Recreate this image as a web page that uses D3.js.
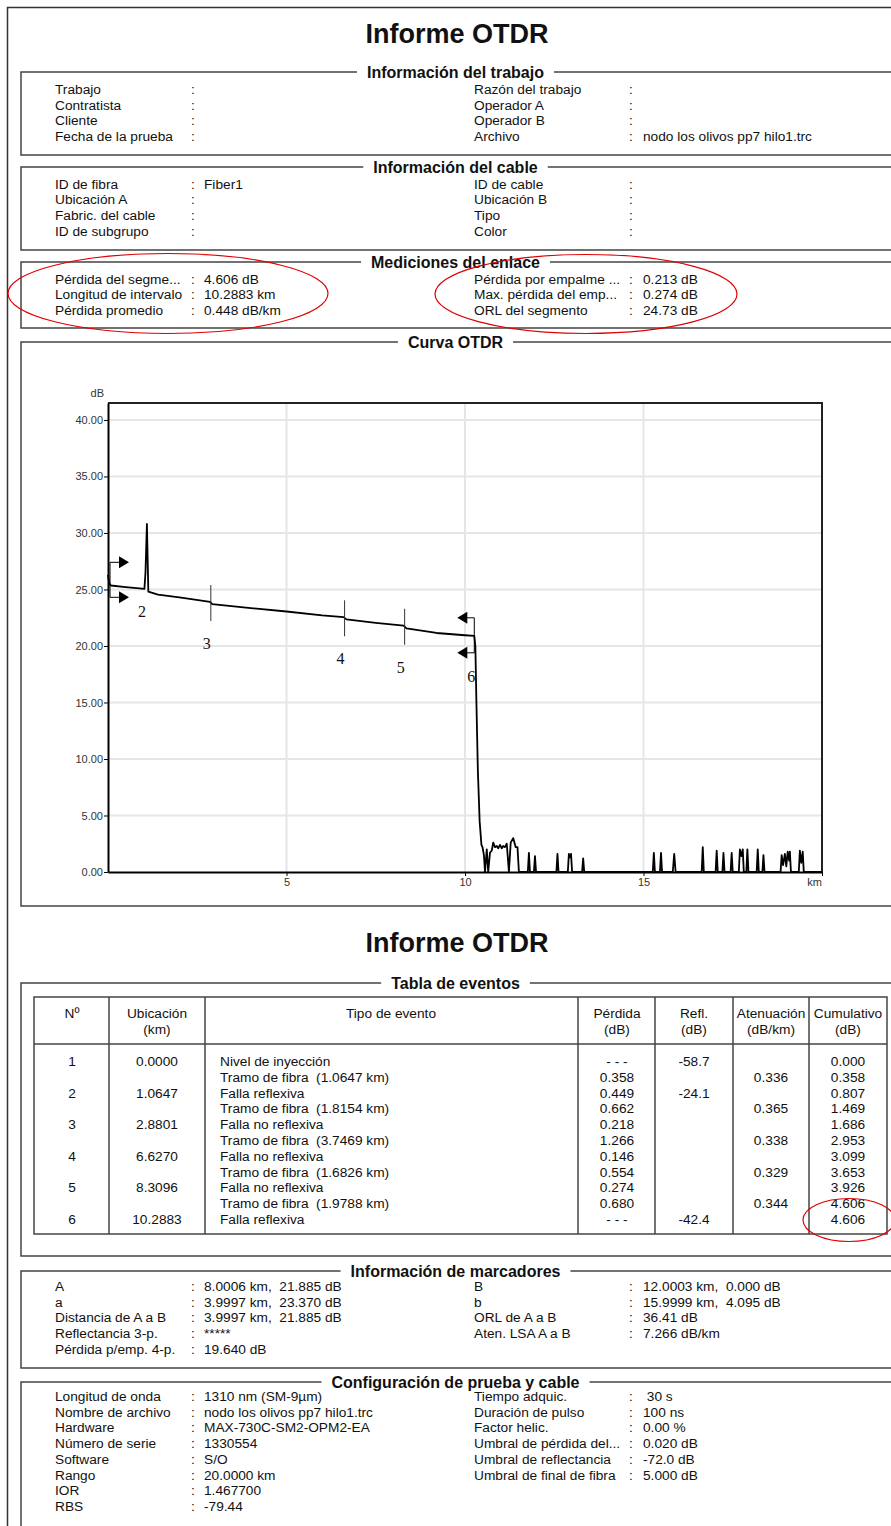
<!DOCTYPE html>
<html>
<head>
<meta charset="utf-8">
<script src="https://cdn.jsdelivr.net/npm/d3@7"></script>
<style>
body { margin: 0; background: #fff; }
svg text { font-family: "Liberation Sans", Arial, sans-serif; fill: #111; white-space: pre; }
</style>
</head>
<body>
<script>
// ---- report fields ----
const jobLeft = [['Trabajo', ''], ['Contratista', ''], ['Cliente', ''], ['Fecha de la prueba', '']]
const jobRight = [['Razón del trabajo', ''], ['Operador A', ''], ['Operador B', ''], ['Archivo', 'nodo los olivos pp7 hilo1.trc']]
const cableLeft = [['ID de fibra', 'Fiber1'], ['Ubicación A', ''], ['Fabric. del cable', ''], ['ID de subgrupo', '']]
const cableRight = [['ID de cable', ''], ['Ubicación B', ''], ['Tipo', ''], ['Color', '']]
const linkLeft = [['Pérdida del segme...', '4.606 dB'], ['Longitud de intervalo', '10.2883 km'], ['Pérdida promedio', '0.448 dB/km']]
const linkRight = [['Pérdida por empalme ...', '0.213 dB'], ['Max. pérdida del emp...', '0.274 dB'], ['ORL del segmento', '24.73 dB']]
const markerLeft = [['A', '8.0006 km,  21.885 dB'], ['a', '3.9997 km,  23.370 dB'], ['Distancia de A a B', '3.9997 km,  21.885 dB'], ['Reflectancia 3-p.', '*****'], ['Pérdida p/emp. 4-p.', '19.640 dB']]
const markerRight = [['B', '12.0003 km,  0.000 dB'], ['b', '15.9999 km,  4.095 dB'], ['ORL de A a B', '36.41 dB'], ['Aten. LSA A a B', '7.266 dB/km']]
const configLeft = [['Longitud de onda', '1310 nm (SM-9µm)'], ['Nombre de archivo', 'nodo los olivos pp7 hilo1.trc'], ['Hardware', 'MAX-730C-SM2-OPM2-EA'], ['Número de serie', '1330554'], ['Software', 'S/O'], ['Rango', '20.0000 km'], ['IOR', '1.467700'], ['RBS', '-79.44']]
const configRight = [['Tiempo adquic.', ' 30 s'], ['Duración de pulso', '100 ns'], ['Factor helic.', '0.00 %'], ['Umbral de pérdida del...', '0.020 dB'], ['Umbral de reflectancia', '-72.0 dB'], ['Umbral de final de fibra', '5.000 dB']]

// ---- OTDR trace (km, dB) ----
const tracePoints = [
  [0.00, 26.3], [0.03, 25.6], [0.08, 25.35], [0.5, 25.2], [1.02, 25.05], [1.05, 26.5], [1.09, 30.8], [1.13, 24.8],
  [1.4, 24.55], [2.0, 24.3], [2.86, 23.9], [2.92, 23.7], [4.0, 23.35], [5.0, 23.05], [6.0, 22.7], [6.6, 22.55],
  [6.68, 22.35], [7.5, 22.05], [8.28, 21.8], [8.36, 21.55], [9.2, 21.15], [10.0, 20.95], [10.26, 20.9], [10.29, 20.0],
  [10.32, 15.0], [10.36, 9.0], [10.41, 4.5], [10.46, 2.4], [10.49, 2.2], [10.53, 1.5], [10.56, 0.0], [10.61, 2.0],
  [10.65, 0.0], [10.70, 1.7], [10.75, 1.9], [10.79, 2.6], [10.84, 2.2], [10.89, 2.3], [10.93, 2.1], [10.98, 2.4],
  [11.03, 2.1], [11.07, 2.3], [11.12, 2.2], [11.17, 2.5], [11.23, 0.0], [11.28, 2.6], [11.35, 3.0], [11.42, 2.2],
  [11.47, 2.2], [11.51, 0.0],
  [11.76, 0], [11.79, 1.7], [11.82, 0], [11.93, 0], [11.96, 1.4], [11.99, 0],
  [12.56, 0], [12.59, 1.6], [12.62, 0], [12.88, 0], [12.91, 1.6], [12.94, 1.3], [12.97, 1.6], [13.0, 0],
  [13.28, 0], [13.31, 1.2], [13.34, 0],
  [15.26, 0], [15.29, 1.7], [15.32, 0], [15.46, 0], [15.49, 1.7], [15.52, 0], [15.82, 0], [15.86, 1.6], [15.90, 0],
  [16.63, 0], [16.66, 2.2], [16.69, 0], [17.02, 0], [17.05, 1.9], [17.08, 0], [17.21, 0], [17.24, 1.7], [17.27, 0],
  [17.44, 0], [17.47, 1.7], [17.50, 0], [17.67, 0], [17.70, 2.0], [17.74, 1.4], [17.78, 2.0], [17.81, 0],
  [17.88, 0], [17.91, 2.0], [17.94, 0], [18.17, 0], [18.20, 2.0], [18.23, 0], [18.33, 0], [18.36, 1.5], [18.39, 0],
  [18.84, 0], [18.87, 1.5], [18.91, 0.6], [18.96, 1.6], [19.0, 0.5], [19.04, 1.8], [19.08, 1.0], [19.10, 1.8], [19.13, 0],
  [19.35, 0], [19.38, 1.9], [19.42, 0.8], [19.46, 1.8], [19.49, 0], [20.0, 0]
]

// ---- events ----
const eventNo = [1, 2, 3, 4, 5, 6]
const eventKm = [0.0000, 1.0647, 2.8801, 6.6270, 8.3096, 10.2883]
const eventLevelDb = [25.9, 25.0, 23.8, 22.45, 21.7, 20.9]

const yTicks = [0, 5, 10, 15, 20, 25, 30, 35, 40]
const xTicks = [5, 10, 15]

// ---- event table ----
const tableHead = [['Nº', ''], ['Ubicación', '(km)'], ['Tipo de evento', ''], ['Pérdida', '(dB)'], ['Refl.', '(dB)'], ['Atenuación', '(dB/km)'], ['Cumulativo', '(dB)']]
const colNo = ['1', '', '2', '', '3', '', '4', '', '5', '', '6']
const colLoc = ['0.0000', '', '1.0647', '', '2.8801', '', '6.6270', '', '8.3096', '', '10.2883']
const colType = ['Nivel de inyección', 'Tramo de fibra  (1.0647 km)', 'Falla reflexiva', 'Tramo de fibra  (1.8154 km)', 'Falla no reflexiva', 'Tramo de fibra  (3.7469 km)', 'Falla no reflexiva', 'Tramo de fibra  (1.6826 km)', 'Falla no reflexiva', 'Tramo de fibra  (1.9788 km)', 'Falla reflexiva']
const colLoss = ['- - -', '0.358', '0.449', '0.662', '0.218', '1.266', '0.146', '0.554', '0.274', '0.680', '- - -']
const colRefl = ['-58.7', '', '-24.1', '', '', '', '', '', '', '', '-42.4']
const colAtt = ['', '0.336', '', '0.365', '', '0.338', '', '0.329', '', '0.344', '']
const colCum = ['0.000', '0.358', '0.807', '1.469', '1.686', '2.953', '3.099', '3.653', '3.926', '4.606', '4.606']

// ---------------------------------------------------------------
const W = 891, H = 1526
const FS = 13.7
const svg = d3.select('body').append('svg').attr('width', W).attr('height', H)

// page frame
svg.append('path').attr('d', 'M7.5,1526 V7.5 H891').attr('fill', 'none').attr('stroke', '#333').attr('stroke-width', 1.5)

function bigTitle(y, txt) {
  svg.append('text').attr('x', 457).attr('y', y).attr('text-anchor', 'middle')
    .attr('font-size', 27).attr('font-weight', 'bold').text(txt)
}

// box with title cut into its top line
function box(top, bottom, title) {
  const t = svg.append('text').attr('x', 455.5).attr('y', top + 5.5).attr('text-anchor', 'middle')
    .attr('font-size', 16).attr('font-weight', 'bold').text(title)
  const tw = t.node().getComputedTextLength()
  const g = svg.append('g').attr('fill', 'none').attr('stroke', '#444').attr('stroke-width', 1.5)
  g.append('path').attr('d', `M${455.5 - tw / 2 - 10},${top} H21 V${bottom} H895`)
  g.append('path').attr('d', `M${455.5 + tw / 2 + 10},${top} H895`)
}

function rows(list, y0, xLabel, xColon, xVal) {
  list.forEach((r, i) => {
    const y = y0 + i * 15.7 + 5
    svg.append('text').attr('x', xLabel).attr('y', y).attr('font-size', FS).text(r[0])
    svg.append('text').attr('x', xColon).attr('y', y).attr('font-size', FS).text(':')
    svg.append('text').attr('x', xVal).attr('y', y).attr('font-size', FS).text(r[1])
  })
}

function section(top, bottom, title, left, right, y0) {
  box(top, bottom, title)
  rows(left, y0, 55, 191, 204)
  rows(right, y0, 474, 629, 643)
}

bigTitle(42.5, 'Informe OTDR')
section(72, 155, 'Información del trabajo', jobLeft, jobRight, 89)
section(167, 250, 'Información del cable', cableLeft, cableRight, 183.5)
section(262, 328, 'Mediciones del enlace', linkLeft, linkRight, 278.5)

// red highlight ellipses
svg.append('ellipse').attr('cx', 168).attr('cy', 293.5).attr('rx', 160).attr('ry', 40)
  .attr('fill', 'none').attr('stroke', '#e00000').attr('stroke-width', 1.2)
svg.append('ellipse').attr('cx', 586).attr('cy', 294).attr('rx', 151).attr('ry', 39.5)
  .attr('fill', 'none').attr('stroke', '#e00000').attr('stroke-width', 1.2)

// ---- Curva OTDR ----
box(342, 906, 'Curva OTDR')

const x = d3.scaleLinear().domain([0, 20]).range([108, 822])
const y = d3.scaleLinear().domain([0, 41.5]).range([872, 403])

// grid
svg.append('g').selectAll('line').data(yTicks.filter(d => d > 0)).enter().append('line')
  .attr('x1', x(0)).attr('x2', x(20)).attr('y1', d => y(d)).attr('y2', d => y(d))
  .attr('stroke', '#e6e6e6').attr('stroke-width', 2)
svg.append('g').selectAll('line').data(xTicks).enter().append('line')
  .attr('x1', d => x(d)).attr('x2', d => x(d)).attr('y1', y(41.5)).attr('y2', y(0))
  .attr('stroke', '#e6e6e6').attr('stroke-width', 2)

// frame top / right
svg.append('path').attr('d', `M${x(0)},${y(41.5)} H${x(20)} V${y(0)}`)
  .attr('fill', 'none').attr('stroke', '#222').attr('stroke-width', 2)

// axes
const yAxis = d3.axisLeft(y).tickValues(yTicks).tickFormat(d3.format('.2f')).tickSize(4).tickSizeOuter(0).tickPadding(1)
const gy = svg.append('g').attr('transform', `translate(${x(0)},0)`).call(yAxis)
gy.select('.domain').attr('stroke', '#000').attr('stroke-width', 2)
gy.selectAll('text').attr('font-size', 11).style('fill', '#333').attr('font-family', '"Liberation Sans", Arial, sans-serif')

const xAxis = d3.axisBottom(x).tickValues(xTicks.concat([20])).tickFormat(d => d === 20 ? '' : d).tickSize(4).tickSizeOuter(0).tickPadding(2)
const gx = svg.append('g').attr('transform', `translate(0,${y(0)})`).call(xAxis)
gx.select('.domain').attr('stroke', '#000').attr('stroke-width', 2)
gx.selectAll('text').attr('font-size', 11).style('fill', '#333').attr('font-family', '"Liberation Sans", Arial, sans-serif')

svg.append('text').attr('x', 822).attr('y', 886).attr('text-anchor', 'end').attr('font-size', 11).style('fill', '#333').text('km')
svg.append('text').attr('x', 104).attr('y', 397).attr('text-anchor', 'end').attr('font-size', 11).style('fill', '#333').text('dB')

// trace
const line = d3.line().x(d => x(d[0])).y(d => y(d[1]))
svg.append('path').datum(tracePoints).attr('d', line)
  .attr('fill', 'none').attr('stroke', '#000').attr('stroke-width', 1.8).attr('stroke-linejoin', 'round')

// event markers
const ev = svg.append('g')
eventNo.forEach((n, i) => {
  const ex = x(eventKm[i]), ey = y(eventLevelDb[i])
  if (n === 1) {
    const vx = ex + 2
    ev.append('path').attr('d', `M${vx + 10},${ey - 17} H${vx} V${ey + 18} H${vx + 10}`)
      .attr('fill', 'none').attr('stroke', '#000').attr('stroke-width', 1)
    ;[ey - 17, ey + 18].forEach(yy => ev.append('path')
      .attr('d', `M${vx + 9},${yy - 6} L${vx + 19},${yy} L${vx + 9},${yy + 6} Z`).attr('fill', '#000'))
  } else if (n === 6) {
    const vx = ex - 1
    ev.append('path').attr('d', `M${vx - 8},${ey - 18} H${vx} V${ey + 17} H${vx - 8}`)
      .attr('fill', 'none').attr('stroke', '#000').attr('stroke-width', 1)
    ;[ey - 18, ey + 17].forEach(yy => ev.append('path')
      .attr('d', `M${vx - 7},${yy - 6} L${vx - 17},${yy} L${vx - 7},${yy + 6} Z`).attr('fill', '#000'))
  } else if (n !== 2) {
    ev.append('line').attr('x1', ex).attr('x2', ex).attr('y1', ey - 18).attr('y2', ey + 18)
      .attr('stroke', '#333').attr('stroke-width', 1)
  }
  if (n > 1) {
    const dy = n === 2 ? 23 : 41
    ev.append('text').attr('x', ex - 4).attr('y', ey + dy + 5).attr('text-anchor', 'middle')
      .attr('font-size', 16).style('font-family', '"Liberation Serif", "Times New Roman", serif').text(n)
  }
})

// ---- second page ----
bigTitle(951.5, 'Informe OTDR')
box(983, 1256, 'Tabla de eventos')

const colEdges = [34, 109, 205, 578, 655, 733, 809, 887]
const colCenters = [72, 157, 391, 617, 694, 771, 848]
const tg = svg.append('g').attr('fill', 'none').attr('stroke', '#444').attr('stroke-width', 1.5)
tg.append('rect').attr('x', 34).attr('y', 997).attr('width', 853).attr('height', 237)
tg.append('line').attr('x1', 34).attr('x2', 887).attr('y1', 1044).attr('y2', 1044)
colEdges.slice(1, -1).forEach(cx => tg.append('line').attr('x1', cx).attr('x2', cx).attr('y1', 997).attr('y2', 1234))

tableHead.forEach((h, i) => {
  svg.append('text').attr('x', colCenters[i]).attr('y', 1018).attr('text-anchor', 'middle').attr('font-size', FS).text(h[0])
  svg.append('text').attr('x', colCenters[i]).attr('y', 1034).attr('text-anchor', 'middle').attr('font-size', FS).text(h[1])
})
const tableCols = [colNo, colLoc, colType, colLoss, colRefl, colAtt, colCum]
tableCols.forEach((col, c) => {
  col.forEach((v, r) => {
    const t = svg.append('text').attr('y', 1061 + r * 15.8 + 5).attr('font-size', FS).text(v)
    if (c === 2) t.attr('x', 220)
    else t.attr('x', colCenters[c]).attr('text-anchor', 'middle')
  })
})
svg.append('ellipse').attr('cx', 849).attr('cy', 1220).attr('rx', 46).attr('ry', 21.5)
  .attr('fill', 'none').attr('stroke', '#e00000').attr('stroke-width', 1.2)

section(1271, 1368, 'Información de marcadores', markerLeft, markerRight, 1286)
box(1382, 1560, 'Configuración de prueba y cable')
rows(configLeft, 1396, 55, 191, 204)
rows(configRight, 1396, 474, 629, 643)
</script>
</body>
</html>
